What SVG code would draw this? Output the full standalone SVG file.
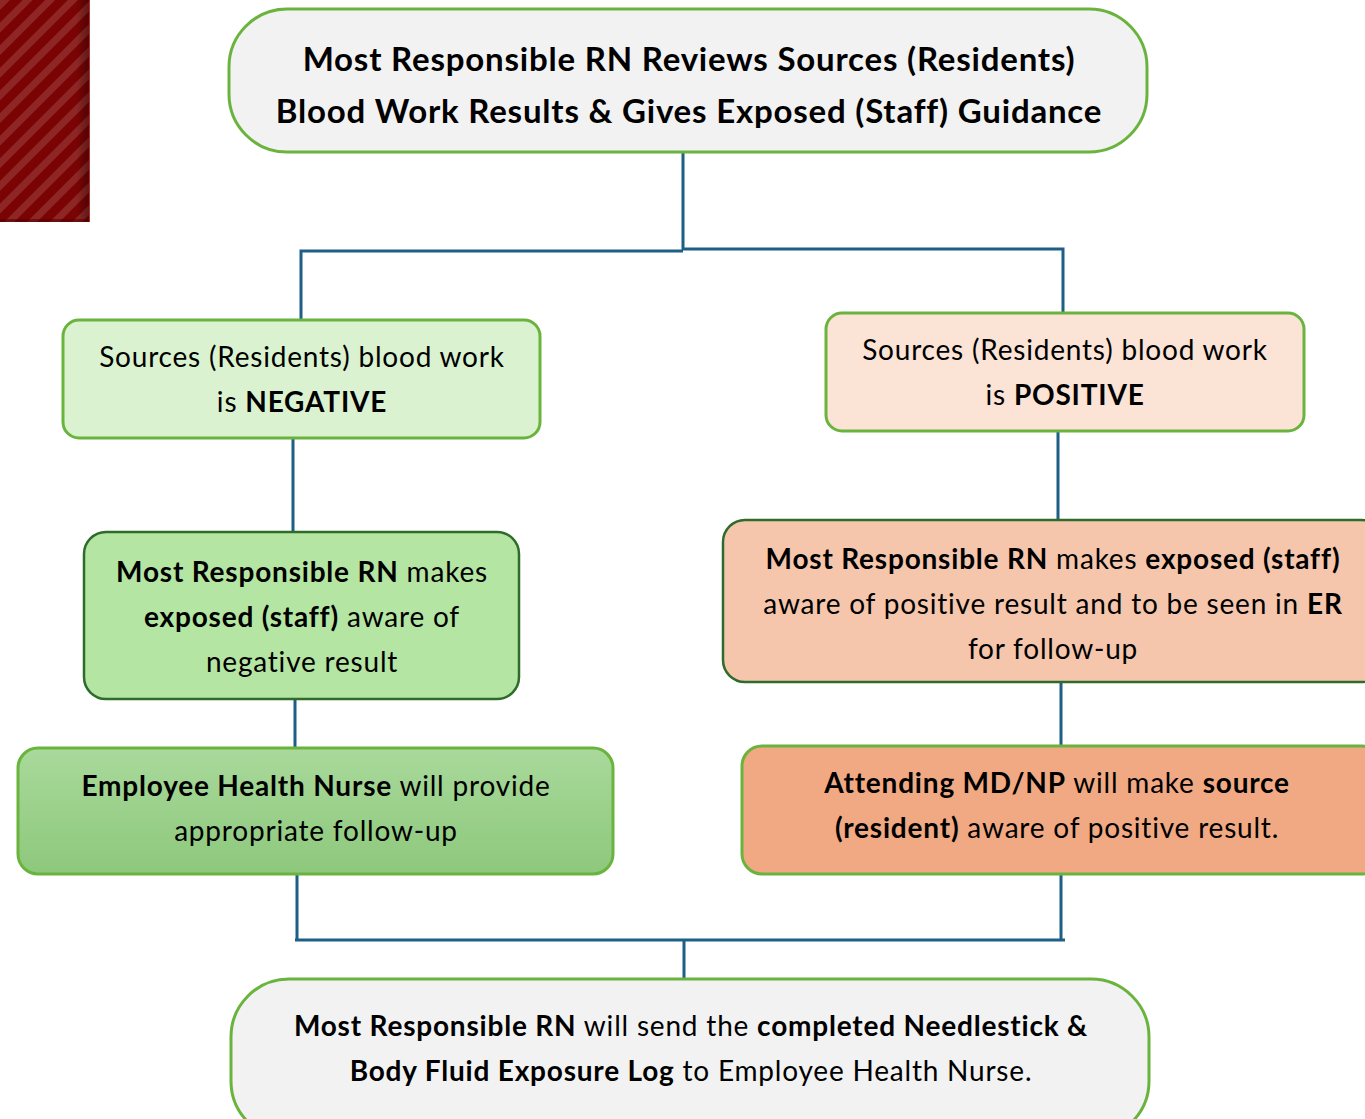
<svg xmlns="http://www.w3.org/2000/svg" width="1365" height="1119" viewBox="0 0 1365 1119">
<defs>
<pattern id="stripes" patternUnits="userSpaceOnUse" width="16" height="16" patternTransform="rotate(45)">
<rect width="16" height="16" fill="#7a0404"/>
<rect width="7" height="16" fill="#8e2626"/>
</pattern>
<linearGradient id="shade" x1="0" y1="0" x2="1" y2="0">
<stop offset="0.85" stop-color="#000" stop-opacity="0"/>
<stop offset="1" stop-color="#000" stop-opacity="0.35"/>
</linearGradient>
<linearGradient id="greenGrad" x1="0" y1="0" x2="0" y2="1">
<stop offset="0" stop-color="#a9d99b"/>
<stop offset="1" stop-color="#8dc87c"/>
</linearGradient>
<style>
.conn{stroke:#1d5f86;stroke-width:3;fill:none}
.lg{stroke:#6ab43e;stroke-width:3}
.dg{stroke:#2f6b2a;stroke-width:2.5}
text{font-family:"Lato","Liberation Sans",sans-serif;fill:#000;text-anchor:middle}
.t{font-size:28px;letter-spacing:0.8px}
.big{font-size:33px;font-weight:bold;letter-spacing:0.8px}
.b{font-weight:bold}
</style>
</defs>
<rect width="1365" height="1119" fill="#fff"/>
<g id="decor">
<rect x="0" y="0" width="90" height="222" fill="url(#stripes)"/>
<rect x="0" y="0" width="90" height="222" fill="url(#shade)"/>
<rect x="0" y="219" width="90" height="3" fill="#5a0000" opacity="0.6"/>
<line x1="89.5" y1="0" x2="89.5" y2="222" stroke="#b03030" stroke-width="1"/>
</g>
<g id="connectors">
<path class="conn" d="M683 152V250M301 320V251H683M683 249H1063V313"/>
<path class="conn" d="M293 438V532M1058 431V520"/>
<path class="conn" d="M295 699V748M1061 682V746"/>
<path class="conn" d="M297 874V940M1061 874V940M295 940H1065M684 940V980"/>
</g>
<g id="n-top">
<rect class="lg" x="229" y="9" width="918" height="143" rx="58" fill="#f2f2f2"/>
<text class="big" x="689" y="71">Most Responsible RN Reviews Sources (Residents)</text>
<text class="big" x="689" y="123">Blood Work Results &amp; Gives Exposed (Staff) Guidance</text>
</g>
<g id="n-neg">
<rect class="lg" x="63" y="320" width="477" height="118" rx="16" fill="#daf2d0"/>
<text class="t" x="302" y="367">Sources (Residents) blood work</text>
<text class="t" x="302" y="412">is <tspan class="b">NEGATIVE</tspan></text>
</g>
<g id="n-pos">
<rect class="lg" x="826" y="313" width="478" height="118" rx="16" fill="#fbe3d6"/>
<text class="t" x="1065" y="360">Sources (Residents) blood work</text>
<text class="t" x="1065" y="405">is <tspan class="b">POSITIVE</tspan></text>
</g>
<g id="n-neg-aware">
<rect class="dg" x="84" y="532" width="435" height="167" rx="22" fill="#b4e5a2"/>
<text class="t" x="302" y="582"><tspan class="b">Most Responsible RN</tspan> makes</text>
<text class="t" x="302" y="627"><tspan class="b">exposed (staff)</tspan> aware of</text>
<text class="t" x="302" y="672">negative result</text>
</g>
<g id="n-pos-aware">
<rect class="dg" x="723" y="520" width="660" height="162" rx="22" fill="#f5c6ac"/>
<text class="t" x="1053" y="569"><tspan class="b">Most Responsible RN</tspan> makes <tspan class="b">exposed (staff)</tspan></text>
<text class="t" x="1053" y="614">aware of positive result and to be seen in <tspan class="b">ER</tspan></text>
<text class="t" x="1053" y="659">for follow-up</text>
</g>
<g id="n-ehn">
<rect class="lg" x="18" y="748" width="595" height="126" rx="20" fill="url(#greenGrad)"/>
<text class="t" x="316" y="796"><tspan class="b">Employee Health Nurse</tspan> will provide</text>
<text class="t" x="316" y="841">appropriate follow-up</text>
</g>
<g id="n-md">
<rect class="lg" x="742" y="746" width="640" height="128" rx="20" fill="#f1a983"/>
<text class="t" x="1057" y="793"><tspan class="b">Attending MD/NP</tspan> will make <tspan class="b">source</tspan></text>
<text class="t" x="1057" y="838"><tspan class="b">(resident)</tspan> aware of positive result.</text>
</g>
<g id="n-bottom">
<rect class="lg" x="231" y="979" width="918" height="160" rx="58" fill="#f2f2f2"/>
<text class="t" x="691" y="1036"><tspan class="b">Most Responsible RN</tspan> will send the <tspan class="b">completed Needlestick &amp;</tspan></text>
<text class="t" x="691" y="1081"><tspan class="b">Body Fluid Exposure Log</tspan> to Employee Health Nurse.</text>
</g>
</svg>
